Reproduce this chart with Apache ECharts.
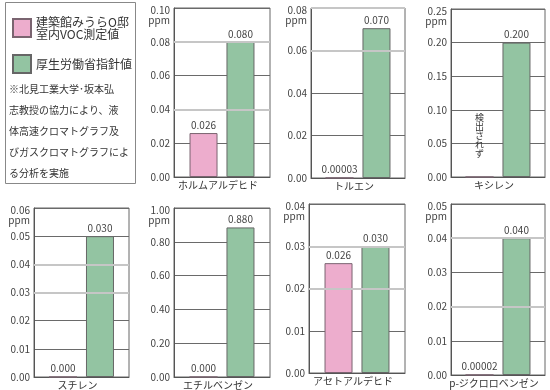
<!DOCTYPE html>
<html>
<head>
<meta charset="utf-8">
<script src="https://cdn.jsdelivr.net/npm/echarts@6/dist/echarts.min.js"></script>
<style>html,body{margin:0;padding:0;background:#fff;}#c{width:550px;height:390px;}</style>
</head>
<body>
<div id="c"></div>
<script>
const categories = ['ホルムアルデヒド','トルエン','キシレン','スチレン','エチルベンゼン','アセトアルデヒド','p-ジクロロベンゼン'];
const seriesNames = ['建築館みうらO邸\n室内VOC測定値', '厚生労働省指針値'];
const measured = [0.026, 0.00003, 0, 0, 0, 0.026, 0.00002];
const measuredText = ['0.026','0.00003','検\n出\nさ\nれ\nず','0.000','0.000','0.026','0.00002'];
const guideline = [0.08, 0.0705, 0.2, 0.05, 0.885, 0.03, 0.04];
const guidelineText = ['0.080','0.070','0.200','0.030','0.880','0.030','0.040'];
const axisMax = [0.10, 0.08, 0.25, 0.06, 1.00, 0.04, 0.05];
const axisStep = [0.02, 0.02, 0.05, 0.01, 0.20, 0.01, 0.01];
const lightGridLines = [[0.08,0.04],[0.08,0.06],[],[0.04,0.03],[],[0.03,0.02],[0.04,0.02]];
const unit = 'ppm';
const noteLines = ['※北見工業大学･坂本弘','志教授の協力により、液','体高速クロマトグラフ及','びガスクロマトグラフによ','る分析を実施'];

// layout: [left, top, width, height]
const rects = [[174,8,96,169],[311,8,94,170],[451,9,94,168],[34,208,95,170],[174,208,96,169],[309,204,96,169],[451,204,94,171]];

const FONT = '"Noto Sans CJK JP", "Noto Sans", sans-serif';
const PINK = '#EDADCD', GREEN = '#93C4A2';

const grid = [], xAxis = [], yAxis = [], series = [];
categories.forEach((cat, i) => {
  const r = rects[i];
  grid.push({left: r[0], top: r[1], width: r[2], height: r[3], show: true, borderColor: '#666', borderWidth: 1, backgroundColor: '#fff'});
  xAxis.push({gridIndex: i, type: 'category', data: [cat],
    axisLine: {show: true, lineStyle: {color: '#555'}}, axisTick: {show: false},
    axisLabel: {fontFamily: FONT, fontSize: 10, color: '#333', margin: 3, padding: [0, 8, 0, 0]}});
  const mx = axisMax[i];
  yAxis.push({gridIndex: i, type: 'value', min: 0, max: mx, interval: axisStep[i],
    name: unit, nameLocation: 'end', nameGap: -12,
    nameTextStyle: {fontFamily: FONT, fontSize: 10, color: '#444', align: 'right', verticalAlign: 'middle', padding: [0, 4, 0, 0]},
    axisLine: {show: true, lineStyle: {color: '#555'}}, axisTick: {show: false},
    splitLine: {show: true, lineStyle: {color: '#6a6a6a', width: 1}},
    axisLabel: {fontFamily: FONT, fontSize: 10, color: '#444', margin: 4,
      formatter: v => Math.abs(v - mx) < 1e-9 ? '{t|' + v.toFixed(2) + '}' : v.toFixed(2),
      rich: {t: {fontFamily: FONT, fontSize: 10, color: '#444', padding: [4, 0, 0, 0]}}}});
  const isVertical = measuredText[i].indexOf('\n') >= 0;
  series.push({name: seriesNames[0], type: 'bar', xAxisIndex: i, yAxisIndex: i, data: [measured[i]],
    barWidth: 28, barGap: '32%', itemStyle: {color: PINK, borderColor: '#7a6470', borderWidth: 1},
    label: isVertical ?
      {show: true, position: 'top', distance: 18, formatter: () => measuredText[i], fontFamily: FONT, fontSize: 9, lineHeight: 9, color: '#333', align: 'center'} :
      {show: true, position: 'top', distance: 3, formatter: () => measuredText[i], fontFamily: FONT, fontSize: 10, color: '#444'}});
  series.push({name: seriesNames[1], type: 'bar', xAxisIndex: i, yAxisIndex: i, data: [guideline[i]],
    barWidth: 28, barGap: '32%', itemStyle: {color: GREEN, borderColor: '#666', borderWidth: 1},
    label: {show: true, position: 'top', distance: 3, formatter: () => guidelineText[i], fontFamily: FONT, fontSize: 10, color: '#444'}});
  series.push({type: 'line', xAxisIndex: i, yAxisIndex: i, data: [], z: 1, silent: true,
    markLine: {silent: true, symbol: 'none', label: {show: false}, animation: false,
      lineStyle: {color: '#c6c6c6', width: 2, type: 'solid'},
      data: lightGridLines[i].map(v => ({yAxis: v}))}});
});

const chart = echarts.init(document.getElementById('c'), null, {renderer: 'canvas'});
chart.setOption({
  animation: false,
  backgroundColor: '#fff',
  textStyle: {fontFamily: FONT},
  legend: {data: seriesNames, orient: 'vertical', left: 7, top: 11, itemWidth: 18, itemHeight: 18, itemGap: 14,
    selectedMode: false, icon: 'rect',
    textStyle: {fontFamily: FONT, fontSize: 12, lineHeight: 12, color: '#333'}},
  graphic: [
    {type: 'rect', shape: {x: 5.5, y: 2.5, width: 130, height: 181}, style: {fill: 'none', stroke: '#888', lineWidth: 1}, z: -1},
    {type: 'text', x: 9, y: 79, style: {text: noteLines.join('\n'), fontSize: 10, fontFamily: FONT, lineHeight: 21, fill: '#333', verticalAlign: 'top', align: 'left'}}
  ],
  grid, xAxis, yAxis, series
});
</script>
</body>
</html>
